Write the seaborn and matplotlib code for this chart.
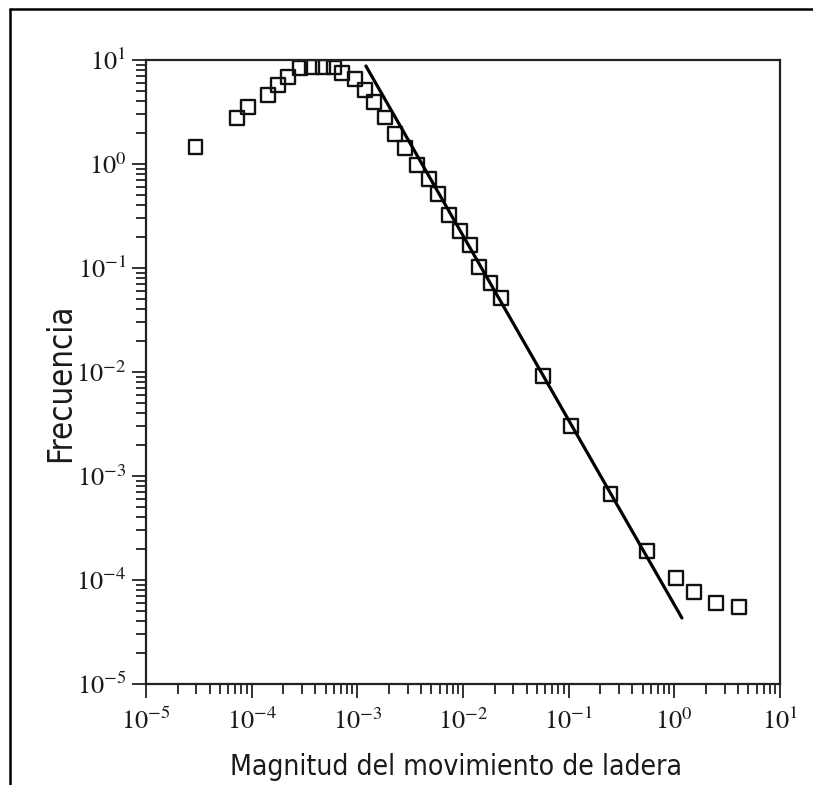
import numpy as np
import pandas as pd
import matplotlib
matplotlib.use("Agg")
import matplotlib.pyplot as plt
from matplotlib.lines import Line2D
from matplotlib.ticker import LogLocator, NullFormatter
import seaborn as sns

# Frequency-magnitude distribution of landslide events
magnitud = [2.94e-5, 7.21e-5, 9.29e-5, 1.435e-4, 1.79e-4, 2.22e-4, 2.86e-4,
            3.70e-4, 4.75e-4, 6.01e-4, 7.14e-4, 9.59e-4, 1.18e-3, 1.435e-3,
            1.82e-3, 2.27e-3, 2.82e-3, 3.66e-3, 4.75e-3, 5.85e-3, 7.36e-3,
            9.36e-3, 1.16e-2, 1.43e-2, 1.82e-2, 2.31e-2, 5.74e-2, 0.105,
            0.249, 0.546, 1.03, 1.53, 2.47, 4.10]
frecuencia = [1.47, 2.75, 3.56, 4.61, 5.75, 6.91, 8.32,
              8.62, 8.62, 8.47, 7.50, 6.57, 5.15, 3.95,
              2.80, 1.96, 1.43, 0.978, 0.717, 0.515, 0.323,
              0.227, 0.166, 0.103, 0.0718, 0.0515, 9.16e-3, 3.03e-3,
              6.67e-4, 1.90e-4, 1.05e-4, 7.71e-5, 5.97e-5, 5.53e-5]

# Power-law fit (end points of the straight segment in log-log space)
ajuste_x = [1.205e-3, 1.18]
ajuste_y = [8.76, 4.31e-5]

decadas = [1e-5, 1e-4, 1e-3, 1e-2, 1e-1, 1e0, 1e1]
etiquetas = [r"$10^{-5}$", r"$10^{-4}$", r"$10^{-3}$", r"$10^{-2}$",
             r"$10^{-1}$", r"$10^{0}$", r"$10^{1}$"]

sns.set_style("ticks")
plt.rcParams["font.family"] = ["DejaVu Sans"]
plt.rcParams["mathtext.fontset"] = "stix"

W_PX, H_PX = 813, 785
fig = plt.figure(figsize=(W_PX / 100, H_PX / 100), dpi=100)
fig.patch.set_facecolor("white")

ax_l, ax_r, ax_t, ax_b = 146, 780, 60, 684
ax = fig.add_axes([ax_l / W_PX, 1 - ax_b / H_PX,
                   (ax_r - ax_l) / W_PX, (ax_b - ax_t) / H_PX])
ax.set_xscale("log")
ax.set_yscale("log")

puntos = pd.DataFrame({"magnitud": magnitud, "frecuencia": frecuencia})
ajuste = pd.DataFrame({"x": ajuste_x, "y": ajuste_y})

sns.lineplot(data=ajuste, x="x", y="y", ax=ax, color="black", linewidth=2.3,
             zorder=3, sort=False)
sns.scatterplot(data=puntos, x="magnitud", y="frecuencia", ax=ax, marker="s",
                s=100, linewidth=1.7, zorder=2)
pts = ax.collections[-1]
pts.set_facecolor("none")
pts.set_edgecolor("#111111")

ax.set_xlim(1e-5, 1e1)
ax.set_ylim(1e-5, 1e1)

ax.set_xticks(decadas, etiquetas)
ax.set_yticks(decadas, etiquetas)
ax.xaxis.set_minor_locator(LogLocator(base=10, subs=np.arange(2, 10), numticks=20))
ax.yaxis.set_minor_locator(LogLocator(base=10, subs=np.arange(2, 10), numticks=20))
ax.xaxis.set_minor_formatter(NullFormatter())
ax.yaxis.set_minor_formatter(NullFormatter())

ax.tick_params(which="both", direction="out", top=False, right=False,
               color="#222222", width=1.3)
ax.tick_params(which="major", length=10, labelsize=19, labelcolor="#1a1a1a")
ax.tick_params(which="minor", length=7)
ax.tick_params(axis="x", which="major", pad=8)
ax.tick_params(axis="y", which="major", pad=4)

for sp in ax.spines.values():
    sp.set_visible(True)
    sp.set_linewidth(1.6)
    sp.set_color("#222222")

ax.set_xlabel("Magnitud del movimiento de ladera", fontsize=19,
              color="#1a1a1a", fontstretch="condensed")
ax.set_ylabel("Frecuencia", fontsize=22, color="#1a1a1a",
              fontstretch="condensed")

# Fit the axis titles to their printed widths
fig.canvas.draw()
rend = fig.canvas.get_renderer()
xl = ax.xaxis.label
xl.set_fontsize(xl.get_fontsize() * 454 / xl.get_window_extent(rend).width)
yl = ax.yaxis.label
yl.set_fontsize(yl.get_fontsize() * 159 / yl.get_window_extent(rend).height)

ax.xaxis.set_label_coords((456 - ax_l) / (ax_r - ax_l),
                          (ax_b - 753) / (ax_b - ax_t))
ax.yaxis.set_label_coords((77 - ax_l) / (ax_r - ax_l),
                          (ax_b - 383) / (ax_b - ax_t))

# Page frame lines (left and top)
fig.add_artist(Line2D([9.5 / W_PX, 9.5 / W_PX], [0, 1 - 8.5 / H_PX],
                      transform=fig.transFigure, color="black", lw=1.8))
fig.add_artist(Line2D([9.5 / W_PX, 1], [1 - 8.5 / H_PX, 1 - 8.5 / H_PX],
                      transform=fig.transFigure, color="black", lw=1.8))

fig.savefig("out.png", dpi=100, facecolor="white")
